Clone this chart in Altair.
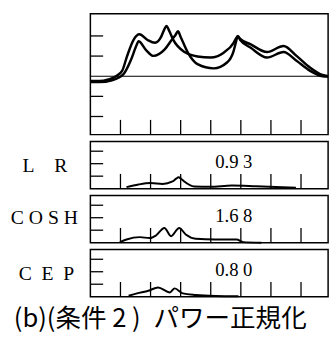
import altair as alt
import pandas as pd

# ---------------- data ----------------
X_MAX = 7.9
x_ticks = [1, 2, 3, 4, 5, 6, 7]
top_y_ticks = [-2, -1, 1, 2]
small_y_ticks = [0.9, 1.8, 2.7]

a_x = [0.0, 0.3, 0.6, 0.85, 1.06, 1.22, 1.44, 1.63, 1.9, 2.15, 2.35, 2.45, 2.53, 2.62, 2.75, 3.13, 3.56, 4.0, 4.43, 4.76, 4.83, 4.9, 4.98, 5.33, 5.87, 6.42, 6.85, 7.29, 7.71, 7.9]
a_y = [-0.24, -0.24, -0.16, 0.0, 0.28, 1.0, 1.82, 2.08, 1.8, 1.66, 1.95, 2.3, 2.5, 2.25, 1.82, 1.2, 0.98, 0.93, 1.17, 1.66, 1.85, 1.98, 1.85, 1.58, 1.2, 1.5, 1.01, 0.44, 0.06, 0.0]

b_x = [0.0, 0.3, 0.72, 1.1, 1.34, 1.54, 1.6, 1.85, 2.09, 2.47, 2.7, 2.83, 2.91, 3.0, 3.24, 3.56, 4.1, 4.54, 4.76, 4.83, 4.9, 4.98, 5.33, 5.87, 6.42, 6.85, 7.29, 7.72, 7.9]
b_y = [-0.29, -0.29, -0.2, 0.1, 0.78, 1.56, 1.74, 1.3, 1.01, 1.33, 1.8, 2.05, 2.23, 1.95, 1.17, 0.6, 0.39, 0.68, 1.25, 1.65, 1.98, 1.8, 1.41, 0.93, 1.2, 0.77, 0.28, 0.0, -0.02]

lr_x = [1.2, 1.6, 2.0, 2.4, 2.73, 2.85, 2.93, 3.02, 3.12, 3.45, 3.98, 4.7, 5.5, 6.83]
lr_y = [0.11, 0.3, 0.4, 0.34, 0.52, 0.72, 0.82, 0.7, 0.52, 0.16, 0.13, 0.23, 0.18, 0.07]

cosh_x = [0.98, 1.2, 1.64, 1.97, 2.18, 2.46, 2.68, 2.95, 3.17, 3.5, 4.15, 4.86, 5.08, 5.68]
cosh_y = [0.04, 0.23, 0.4, 0.33, 0.52, 1.06, 0.47, 1.06, 0.59, 0.28, 0.23, 0.23, 0.04, 0.0]

cep_x = [1.27, 1.55, 1.93, 2.25, 2.64, 2.8, 3.07, 3.51, 4.16, 4.92]
cep_y = [0.07, 0.24, 0.43, 0.67, 0.31, 0.6, 0.24, 0.12, 0.05, 0.03]

labels = ["L\u2003R", "C O S H", "C\u2002E\u2002P"]
values = ["0.9 3", "1.6 8", "0.8 0"]
caption = "(b)(条件 2 )\u2002パワー正規化"

# ---------------- chart ----------------
W = 242
xs = alt.Scale(domain=[0, X_MAX], nice=False, zero=False)
ys_top = alt.Scale(domain=[-2.9, 3.1], nice=False, zero=False)
ys_small = alt.Scale(domain=[0, 3.4], nice=False, zero=False)


def ticks(H, ys, yt):
    left = alt.Chart(pd.DataFrame({"t": yt})).mark_rule(color="black", strokeWidth=1.3).encode(
        y=alt.Y("t:Q", scale=ys, axis=None), x=alt.value(0), x2=alt.value(13))
    bottom = alt.Chart(pd.DataFrame({"t": x_ticks})).mark_rule(color="black", strokeWidth=1.3).encode(
        x=alt.X("t:Q", scale=xs, axis=None), y=alt.value(H), y2=alt.value(H - 15))
    return [left, bottom]


# top panel
H1 = 123
top_df = pd.concat([
    pd.DataFrame({"x": a_x, "y": a_y, "s": "A"}),
    pd.DataFrame({"x": b_x, "y": b_y, "s": "B"}),
])
top_lines = alt.Chart(top_df).mark_line(color="black", strokeWidth=2.5, interpolate="monotone").encode(
    x=alt.X("x:Q", scale=xs, axis=None), y=alt.Y("y:Q", scale=ys_top, axis=None), detail="s:N")
zero = alt.Chart(pd.DataFrame({"z": [0]})).mark_rule(color="black", strokeWidth=1.2).encode(
    y=alt.Y("z:Q", scale=ys_top, axis=None))
top = alt.layer(zero, *ticks(H1, ys_top, top_y_ticks), top_lines).properties(width=W, height=H1)


def small(xv, yv, label, val, lab_x, lab_y, H=48, extra=None):
    df = pd.DataFrame({"x": xv, "y": yv})
    line = alt.Chart(df).mark_line(color="black", strokeWidth=2.0, interpolate="monotone").encode(
        x=alt.X("x:Q", scale=xs, axis=None), y=alt.Y("y:Q", scale=ys_small, axis=None))
    lab = alt.Chart(pd.DataFrame({"s": [label]})).mark_text(
        align="left", baseline="middle", font="Liberation Serif", fontSize=20, color="black").encode(
        x=alt.value(lab_x), y=alt.value(lab_y), text="s:N")
    num = alt.Chart(pd.DataFrame({"s": [val]})).mark_text(
        align="left", baseline="middle", font="Liberation Serif", fontSize=19, color="black").encode(
        x=alt.value(127), y=alt.value(21), text="s:N")
    layers = [*ticks(H, ys_small, small_y_ticks), line, lab, num]
    if extra is not None:
        layers.append(extra)
    return alt.layer(*layers).properties(width=W, height=H)


cap = alt.Chart(pd.DataFrame({"s": [caption]})).mark_text(
    align="left", baseline="middle", font="Noto Sans CJK JP", fontSize=26, color="black").encode(
    x=alt.value(-78), y=alt.value(71), text="s:N")

p_lr = small(lr_x, lr_y, labels[0], values[0], -69, 25)
p_cosh = small(cosh_x, cosh_y, labels[1], values[1], -81, 23)
p_cep = small(cep_x, cep_y, labels[2], values[2], -73, 24.5, extra=cap)

chart = alt.vconcat(top, p_lr, p_cosh, p_cep, spacing=7, bounds="flush").properties(
    padding={"left": 10, "top": 10, "right": 0, "bottom": 2},
    background="white",
).configure_view(stroke="black", strokeWidth=1.5)

chart.save("out.html", embed_options={"renderer": "svg", "actions": False})
